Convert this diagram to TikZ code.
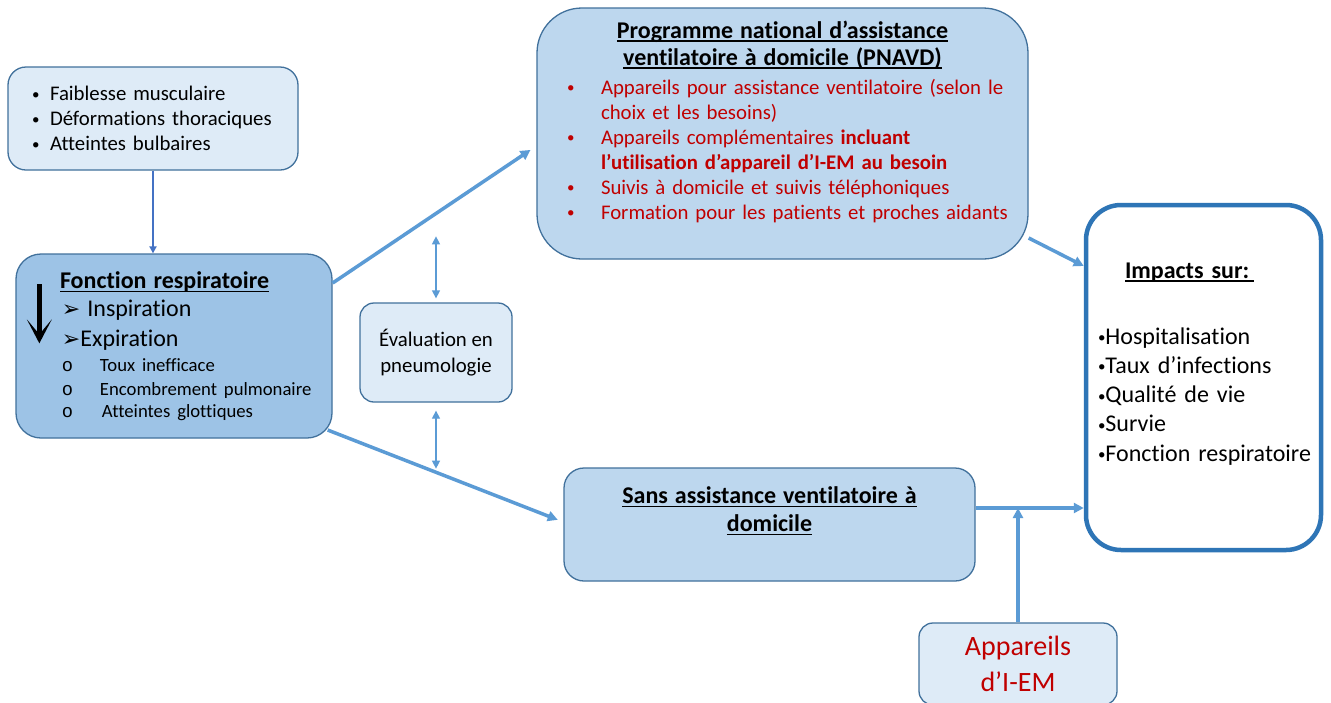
\documentclass[tikz,border=0pt]{standalone}
\usepackage{fontspec}
\setmainfont{Carlito}[Ligatures={NoCommon}]
\newfontfamily\dingfont{DejaVu Sans}
\newfontfamily\circfont{Liberation Mono}
\usepackage{tikz}
\usetikzlibrary{arrows.meta,positioning}

\definecolor{paleblue}{HTML}{DEEBF7}
\definecolor{midblue}{HTML}{BDD7EE}
\definecolor{deepblue}{HTML}{9DC3E6}
\definecolor{edgeblue}{HTML}{41719C}
\definecolor{linkblue}{HTML}{5B9BD5}
\definecolor{darklink}{HTML}{4472C4}
\definecolor{frameblue}{HTML}{2E75B6}
\definecolor{alertred}{HTML}{C00000}

% underline at a fixed depth below the baseline
\newsavebox{\ulbox}
\newcommand{\uln}[1]{\leavevmode\sbox{\ulbox}{#1}\rlap{\rule[-3.5pt]{\wd\ulbox}{1.3pt}}\usebox{\ulbox}}
% titles are set larger and bold
\newcommand{\headtxt}[1]{\leavevmode{\fontsize{24}{24}\selectfont\bfseries\uln{#1}}}
% small bullet
\newcommand{\smalldot}{\raisebox{1.5pt}{\fontsize{15}{15}\selectfont •}}
% one full-width line of a box, with an optional indent
\newcommand{\boxrow}[2][0pt]{\makebox[\hsize][l]{\hspace*{#1}#2}}
% bulleted line: indent, bullet column, text
\newcommand{\dotrow}[3]{\boxrow[#1]{\makebox[#2][l]{\smalldot}#3}}

\begin{document}
\begin{tikzpicture}[
  x=1pt, y=-1pt,
  font=\fontsize{20.8}{25}\selectfont,
  softbox/.style={draw=edgeblue, line width=1.3pt, fill=paleblue, inner sep=0pt, align=center},
  midbox/.style={draw=edgeblue, line width=1.3pt, fill=midblue, inner sep=0pt, align=center},
  deepbox/.style={draw=edgeblue, line width=1.3pt, fill=deepblue, inner sep=0pt, align=center},
  framebox/.style={draw=frameblue, line width=4.5pt, fill=white, inner sep=0pt, align=center, rounded corners=35pt},
  flow/.style={-{Triangle[length=10pt,width=10pt]}, linkblue, line width=3.5pt},
  biflow/.style={{Triangle[length=8pt,width=8pt]}-{Triangle[length=8pt,width=8pt]}, linkblue, line width=1.3pt},
  downlink/.style={-{Triangle[length=7pt,width=7pt]}, darklink, line width=1.8pt},
  bigdown/.style={-{Stealth[length=24pt,width=25pt,inset=15pt]}, black, line width=4.5pt}
]
\path[use as bounding box, fill=white] (0,0) rectangle (1331,702);

\node[softbox, rounded corners=18pt, minimum width=290pt, minimum height=103pt, text width=242pt] (causes) at (153,118.5) {
  \dotrow{0pt}{18pt}{Faiblesse musculaire}\\
  \dotrow{0pt}{18pt}{Déformations thoraciques}\\
  \dotrow{0pt}{18pt}{Atteintes bulbaires}};

\node[deepbox, rounded corners=25pt, minimum width=316pt, minimum height=184pt, text width=280pt] (fonction) at (174,346) {
  \boxrow[26pt]{\headtxt{Fonction respiratoire}}\\[3pt]
  \boxrow[28pt]{\fontsize{24}{24}\selectfont{\dingfont\fontsize{22}{22}\selectfont ➢}\ Inspiration}\\[5pt]
  \boxrow[28pt]{\fontsize{24}{24}\selectfont{\dingfont\fontsize{22}{22}\selectfont ➢}Expiration}\\
  \boxrow[28pt]{\fontsize{18.7}{18.7}\selectfont\makebox[38pt][l]{\circfont o}Toux inefficace}\\[-1pt]
  \boxrow[28pt]{\fontsize{18.7}{18.7}\selectfont\makebox[38pt][l]{\circfont o}Encombrement pulmonaire}\\[-3pt]
  \boxrow[28pt]{\fontsize{18.7}{18.7}\selectfont\makebox[40pt][l]{\circfont o}Atteintes glottiques}};

\node[softbox, rounded corners=14pt, minimum width=152pt, minimum height=99pt, font=\fontsize{20.8}{26}\selectfont] (eval) at (436,352.5) {Évaluation en\\pneumologie};

\node[midbox, rounded corners=45pt, minimum width=491pt, minimum height=251pt, text width=440pt] (pnavd) at (782.5,133.5) {
  \headtxt{Programme national d’assistance}\\[2pt]
  \headtxt{ventilatoire à domicile (PNAVD)}\\[4pt]
  \color{alertred}
  \dotrow{4.5pt}{34pt}{Appareils pour assistance ventilatoire (selon le}\\
  \boxrow[38.5pt]{choix et les besoins)}\\
  \dotrow{4.5pt}{34pt}{Appareils complémentaires \textbf{incluant}}\\
  \boxrow[38.5pt]{\textbf{l’utilisation d’appareil d’I-EM au besoin}}\\
  \dotrow{4.5pt}{34pt}{Suivis à domicile et suivis téléphoniques}\\
  \dotrow{4.5pt}{34pt}{Formation pour les patients et proches aidants}\\[2pt]
  \mbox{}};

\node[midbox, rounded corners=20pt, minimum width=411pt, minimum height=113pt, text width=380pt] (sans) at (769.5,524.5) {
  \headtxt{Sans assistance ventilatoire à}\\[3pt]
  \headtxt{domicile}\\[6pt]
  \mbox{}};

\node[framebox, minimum width=235pt, minimum height=345pt, text width=223pt, font=\fontsize{24}{29.3}\selectfont] (impacts) at (1203.5,377.5) {
  \boxrow[33pt]{\headtxt{Impacts sur:\hspace{5pt}}}\\[36.7pt]
  \boxrow[6pt]{\smalldot Hospitalisation}\\
  \boxrow[6pt]{\smalldot Taux d’infections}\\
  \boxrow[6pt]{\smalldot Qualité de vie}\\
  \boxrow[6pt]{\smalldot Survie}\\
  \boxrow[6pt]{\smalldot Fonction respiratoire}\\[2pt]
  \mbox{}};

\node[softbox, rounded corners=14pt, minimum width=198pt, minimum height=82pt, text=alertred, font=\fontsize{28}{36}\selectfont] (iem) at (1018,664) {Appareils\\d’I-EM};

% links between the boxes
\draw[downlink] (causes.south) -- (causes.south |- fonction.north);
\draw[bigdown] ([xshift=24pt,yshift=-31pt]fonction.north west) -- ++(0,59);

\draw[flow, shorten >=7pt] ([yshift=63pt]fonction.east) -- ([yshift=-12.5pt]pnavd.west);
\draw[flow, shorten >=6pt] ([xshift=-5pt,yshift=-84pt]fonction.east) -- ([yshift=2.5pt]sans.west);
\draw[flow] ([yshift=-104.5pt]pnavd.east) -- ([yshift=111.5pt]impacts.west);

\coordinate (sansout) at ([yshift=16.5pt]sans.east);
\coordinate (join) at (sansout -| iem.north);
\draw[flow] (sansout) -- (sansout -| impacts.west);
\draw[flow] (iem.north) -- (join);

\coordinate (evaltop) at ([yshift=66pt]eval.north);
\coordinate (evalbot) at ([yshift=-66pt]eval.south);
\draw[biflow, shorten <=4pt] (eval.north) -- (evaltop);
\draw[biflow, shorten <=8pt] (eval.south) -- (evalbot);
\end{tikzpicture}
\end{document}
